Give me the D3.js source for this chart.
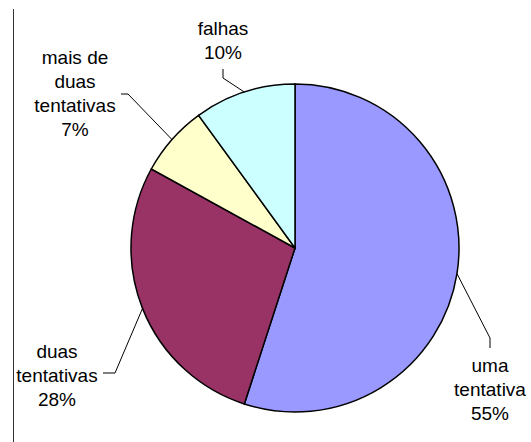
<!DOCTYPE html>
<head>
    <meta charset="utf-8">
    <style>
      body {
          margin: 0;
          background: #fff;
      }

      text {
          font-family: 'Liberation Sans', Arial, sans-serif;
          font-size: 19px;
          fill: #000;
      }

      .slice {
        stroke: #000;
        stroke-width: 1.5px;
      }

      .leader {
        fill: none;
        stroke: #000;
        stroke-width: 1px;
      }

      .frame {
        stroke: #333;
        stroke-width: 1px;
      }
  </style>
</head>
<body>
<svg id="chart" width="531" height="442"></svg>
<script src="https://cdn.jsdelivr.net/npm/d3@7"></script>
<script>
  // data
  var categories = ["uma tentativa", "duas tentativas", "mais de duas tentativas", "falhas"];
  var labelLines = [["uma", "tentativa"], ["duas", "tentativas"], ["mais de", "duas", "tentativas"], ["falhas"]];
  var values = [55, 28, 7, 10];
  var colors = ["#9999ff", "#993366", "#ffffcc", "#ccffff"];

  // layout (relative to pie centre): label text anchor and leader elbows
  var labelAt = [[195, 124], [-238, 110], [-220, -184], [-72, -213]];
  var elbows = [[[195, 90], [195, 100]], [[-180, 125], [-192, 125]], [[-167, -154], [-174, -154]], [[-72, -170], [-72, -179]]];

  var svg = d3.select("#chart");
  var cx = 295, cy = 248, r = 164;

  svg.append("line")
      .attr("class", "frame")
      .attr("x1", 13.5).attr("x2", 13.5)
      .attr("y1", 9).attr("y2", 442);

  var g = svg.append("g").attr("transform", "translate(" + cx + "," + cy + ")");

  var pie = d3.pie().sort(null).value(function(d) { return d; });
  var arcs = pie(values);
  var arc = d3.arc().innerRadius(0).outerRadius(r);

  g.selectAll("path.slice")
      .data(arcs)
    .enter().append("path")
      .attr("class", "slice")
      .attr("d", arc)
      .attr("fill", function(d, i) { return colors[i]; });

  // leader lines: from slice edge at mid angle to the label
  var line = d3.line();
  g.selectAll("path.leader")
      .data(arcs)
    .enter().append("path")
      .attr("class", "leader")
      .attr("d", function(d, i) {
        var a = (d.startAngle + d.endAngle) / 2;
        var edge = [r * Math.sin(a), -r * Math.cos(a)];
        return line([edge].concat(elbows[i]));
      });

  var labels = g.selectAll("text.label")
      .data(arcs)
    .enter().append("text")
      .attr("class", "label")
      .attr("text-anchor", "middle")
      .attr("transform", function(d, i) { return "translate(" + labelAt[i][0] + "," + labelAt[i][1] + ")"; });

  labels.each(function(d, i) {
    var t = d3.select(this);
    var lines = labelLines[i].concat([d3.format(".0f")(values[i]) + "%"]);
    lines.forEach(function(s, k) {
      t.append("tspan")
          .attr("x", 0)
          .attr("y", k * 24)
          .text(s);
    });
  });
</script>
</body>
